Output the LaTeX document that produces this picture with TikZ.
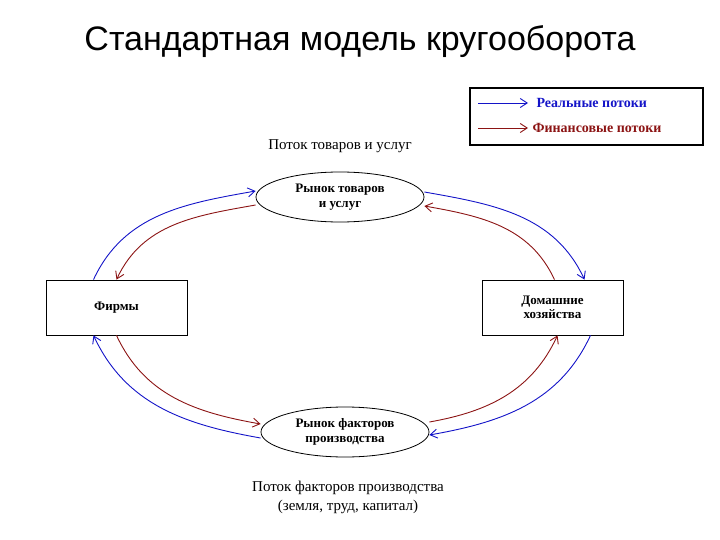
\documentclass[tikz,border=0pt]{standalone}
\usepackage{fontspec}
\setmainfont{Liberation Serif}
\newfontfamily\titlefont{Liberation Sans}
\usetikzlibrary{arrows.meta,shapes.geometric}
\definecolor{rblue}{RGB}{20,20,200}
\definecolor{rred}{RGB}{140,20,20}
\begin{document}
\begin{tikzpicture}[x=1pt,y=-1pt,
  real/.style={draw=rblue,line width=0.9pt,-{Straight Barb[length=7pt,width=9pt]}},
  fin/.style={draw=rred,line width=0.9pt,-{Straight Barb[length=7pt,width=9pt]}},
  agent/.style={draw,line width=0.8pt,minimum width=141pt,minimum height=55pt,align=center,font=\bfseries\fontsize{13}{14}\selectfont},
  market/.style={draw,ellipse,line width=0.8pt,minimum width=168pt,minimum height=50pt,align=center,inner sep=0pt,font=\bfseries\fontsize{13}{15}\selectfont},
  lbl/.style={align=center,font=\fontsize{15}{19}\selectfont}]
\useasboundingbox (0,0) rectangle (720,540);
\node[font=\titlefont\fontsize{34}{36}\selectfont] (title) at (360,42) {Стандартная модель кругооборота};
% legend
\node[draw,line width=1.5pt,minimum width=233pt,minimum height=57pt] (leg) at (586.5,116.5) {};
\coordinate (l1a) at (478,103); \coordinate (l1b) at (528,103);
\coordinate (l2a) at (478,128); \coordinate (l2b) at (528,128);
\draw[real] (l1a) -- (l1b);
\draw[fin] (l2a) -- (l2b);
\node[anchor=west,text=rblue,font=\bfseries\fontsize{14}{16}\selectfont] (lt1) at (533,103) {Реальные потоки};
\node[anchor=west,text=rred,font=\bfseries\fontsize{14}{16}\selectfont] (lt2) at (529,128) {Финансовые потоки};
% nodes
\node[lbl] (top) at (340,146) {Поток товаров и услуг};
\node[market] (goods) at (340,197) {Рынок товаров\\и услуг};
\node[agent] (firms) at (116.5,307.5) {Фирмы};
\node[agent] (hh) at (552.5,307.5) {Домашние\\хозяйства};
\node[market] (factors) at (345,432) {Рынок факторов\\производства};
\node[lbl] (bot) at (348,497) {Поток факторов производства\\(земля, труд, капитал)};
% arrows
\draw[real] ([xshift=-23pt]firms.north) to[out=65,in=190] ([yshift=6pt]goods.west);
\draw[fin] ([yshift=-8pt]goods.west) to[out=190,in=65] (firms.north);
\draw[real] ([yshift=5pt]goods.east) to[out=-10,in=115] ([xshift=32pt]hh.north);
\draw[fin] ([xshift=2pt]hh.north) to[out=115,in=-10] ([yshift=-9pt]goods.east);
\draw[real] ([xshift=38pt]hh.south) to[out=-115,in=10] ([yshift=-3pt]factors.east);
\draw[fin] ([yshift=10pt]factors.east) to[out=10,in=-115] ([xshift=5pt]hh.south);
\draw[real] ([yshift=-6pt]factors.west) to[out=170,in=-65] ([xshift=-23pt]firms.south);
\draw[fin] (firms.south) to[out=-65,in=170] ([yshift=8pt]factors.west);
\end{tikzpicture}
\end{document}
